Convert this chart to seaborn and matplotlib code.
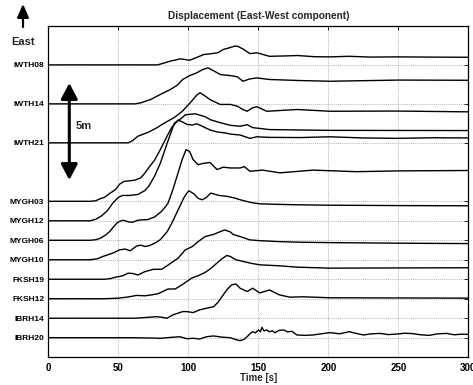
import numpy as np
import pandas as pd
import matplotlib
matplotlib.use("Agg")
import matplotlib.pyplot as plt
import seaborn as sns

# ---------------- data ----------------
stations = ["IWTH08", "IWTH14", "IWTH21", "MYGH03", "MYGH12", "MYGH06",
            "MYGH10", "FKSH19", "FKSH12", "IBRH14", "IBRH20"]
offsets = [15, 13, 11, 8, 7, 6, 5, 4, 3, 2, 1]   # trace baselines (m)

t_IWTH08 = [0, 78, 82, 87, 91, 94, 97, 101, 106, 111, 116, 121, 125, 129, 133, 135, 139, 144, 149, 158, 170, 178, 190, 201, 215, 230, 250, 270, 300]
d_IWTH08 = [0, 0, 0.08, 0.19, 0.25, 0.31, 0.28, 0.24, 0.38, 0.53, 0.57, 0.62, 0.79, 0.87, 0.96, 0.96, 0.82, 0.58, 0.62, 0.44, 0.46, 0.48, 0.42, 0.41, 0.44, 0.40, 0.41, 0.40, 0.39]

t_IWTH14 = [0, 62, 66, 73, 80, 87, 92, 96, 101, 106, 110, 114, 118, 123, 130, 135, 139, 144, 149, 158, 178, 201, 250, 300]
d_IWTH14 = [0, 0, 0.05, 0.22, 0.48, 0.73, 0.95, 1.25, 1.45, 1.59, 1.75, 1.85, 1.7, 1.5, 1.45, 1.39, 1.16, 1.28, 1.33, 1.25, 1.2, 1.16, 1.22, 1.21]

t_IWTH21 = [0, 57, 60, 64, 71, 77, 83.5, 90, 95.6, 100, 103.4, 106, 108.4, 112, 115.5, 122.7, 130, 135, 139, 142, 146, 149, 156, 178, 201, 250, 300]
d_IWTH21 = [0, 0, 0.1, 0.34, 0.53, 0.75, 1.04, 1.3, 1.61, 1.95, 2.22, 2.45, 2.57, 2.4, 2.22, 1.97, 1.97, 1.88, 1.71, 1.62, 1.8, 1.85, 1.62, 1.71, 1.62, 1.63, 1.59]

t_MYGH03 = [0, 30, 34, 37, 40, 44, 48, 51, 54, 58, 62, 66, 69, 72, 76, 80, 83.5, 86, 88.4, 92.7, 95.6, 99, 102.7, 106, 110, 115.5, 120.5, 127, 130, 137, 144, 149, 158, 180, 201, 225, 249, 275, 300]
d_MYGH03 = [0, 0, 0.03, 0.13, 0.2, 0.41, 0.6, 0.88, 1.02, 1.05, 1.09, 1.2, 1.45, 1.75, 2.12, 2.65, 3.15, 3.5, 3.81, 4.17, 4.08, 3.95, 3.91, 3.98, 3.85, 3.66, 3.56, 3.5, 3.45, 3.40, 3.23, 3.31, 3.28, 3.27, 3.31, 3.25, 3.23, 3.26, 3.25]

t_MYGH12 = [0, 30, 34, 38, 42, 46, 50, 53, 58, 64, 69, 72, 76, 80, 85, 90, 94, 98, 105, 112, 116, 123, 130, 137, 142, 146, 158, 200, 300]
d_MYGH12 = [0, 0, 0.08, 0.25, 0.5, 0.9, 1.2, 1.3, 1.3, 1.35, 1.55, 1.8, 2.3, 2.95, 4.0, 5.0, 5.2, 5.44, 5.49, 5.34, 5.18, 5.03, 4.9, 4.85, 4.93, 4.78, 4.68, 4.64, 4.63]

t_MYGH06 = [0, 30, 34, 37, 41, 44, 49, 51, 53.6, 57, 60, 64, 68, 71, 76, 81, 84, 85.6, 89, 92, 95.6, 98.4, 101, 103.4, 107, 111, 115.5, 120.5, 125, 130, 137, 140, 144, 153, 165.5, 189, 220, 250, 300]
d_MYGH06 = [0, 0, 0.03, 0.1, 0.27, 0.46, 0.89, 0.97, 1.03, 0.95, 0.92, 1.03, 1.05, 1.06, 1.2, 1.49, 1.75, 1.92, 2.6, 3.3, 4.14, 4.65, 4.55, 4.14, 3.88, 3.95, 3.99, 3.63, 3.75, 3.71, 3.71, 3.78, 3.54, 3.6, 3.46, 3.6, 3.52, 3.56, 3.58]

t_MYGH10 = [0, 30, 35, 39, 46, 51, 55, 58.5, 63, 66, 69, 72, 76, 80, 85, 88, 91, 94, 97, 99, 100.5, 104, 107, 110, 113, 116, 122, 128, 133, 137, 144, 148, 151, 160, 178, 200, 250, 300]
d_MYGH10 = [0, 0, 0.05, 0.17, 0.34, 0.51, 0.55, 0.46, 0.7, 0.75, 0.68, 0.72, 0.85, 1.03, 1.45, 1.85, 2.3, 2.75, 3.2, 3.42, 3.54, 3.38, 3.15, 3.08, 3.2, 3.42, 3.3, 3.25, 3.17, 3.08, 2.95, 2.9, 2.87, 2.85, 2.82, 2.8, 2.78, 2.77]

t_FKSH19 = [0, 40, 44, 47.8, 52.8, 57, 60, 64, 69, 75, 81, 85.6, 89, 92.7, 97.7, 102.7, 107, 112, 118, 122, 126, 130, 132, 137, 144, 151, 165, 180, 201, 250, 300]
d_FKSH19 = [0, 0, 0.03, 0.1, 0.17, 0.31, 0.3, 0.22, 0.39, 0.51, 0.51, 0.73, 0.9, 1.08, 1.5, 1.67, 1.93, 2.19, 2.3, 2.42, 2.53, 2.43, 2.3, 2.19, 2.02, 1.98, 1.93, 1.9, 1.88, 1.85, 1.83]

t_FKSH12 = [0, 40, 50, 57, 63, 69, 74, 78.5, 82, 85.6, 90.6, 95.6, 102.7, 107, 112, 116, 120, 124, 127.5, 130, 134, 137, 144, 151, 165, 178, 201, 250, 300]
d_FKSH12 = [0, 0, 0.03, 0.09, 0.17, 0.15, 0.2, 0.26, 0.38, 0.5, 0.5, 0.72, 1.07, 1.18, 1.35, 1.55, 1.8, 2.05, 2.22, 2.17, 2.0, 1.95, 1.83, 1.74, 1.69, 1.62, 1.57, 1.58, 1.59]

t_IBRH14 = [0, 62, 66, 72, 77.6, 81, 84.8, 89, 96, 99, 103.5, 108, 113, 118, 121, 125, 128, 131, 134, 137, 142, 146, 151, 158, 165, 172.6, 182, 201, 250, 300]
d_IBRH14 = [0, 0, 0.02, 0.05, 0.08, 0.05, 0.0, 0.17, 0.34, 0.34, 0.29, 0.43, 0.51, 0.59, 0.8, 1.2, 1.5, 1.71, 1.76, 1.54, 1.37, 1.54, 1.3, 1.45, 1.2, 1.08, 1.1, 1.05, 1.04, 1.03]

t_IBRH20 = [0, 60, 75, 80, 88, 94, 99, 104, 108, 113, 118, 124, 130, 134, 137, 140, 142, 144, 146, 148, 150, 151.5, 152.6, 154, 156, 158, 160, 162, 163, 165, 168, 171, 174, 177.6, 183, 189, 195, 201, 208, 215, 220, 225, 231, 237, 243, 249, 255, 260, 266, 272, 278, 284.6, 290, 295, 300]
d_IBRH20 = [0, 0, -0.02, -0.03, 0.02, 0.05, -0.05, -0.03, -0.07, 0.05, 0.09, 0.03, 0, -0.1, -0.15, -0.08, 0.05, 0.2, 0.31, 0.25, 0.4, 0.3, 0.53, 0.35, 0.4, 0.3, 0.36, 0.25, 0.31, 0.38, 0.4, 0.3, 0.33, 0.14, 0.12, 0.14, 0.2, 0.26, 0.2, 0.31, 0.22, 0.14, 0.2, 0.22, 0.16, 0.19, 0.23, 0.21, 0.15, 0.12, 0.2, 0.22, 0.15, 0.18, 0.17]

times = [t_IWTH08, t_IWTH14, t_IWTH21, t_MYGH03, t_MYGH12, t_MYGH06,
         t_MYGH10, t_FKSH19, t_FKSH12, t_IBRH14, t_IBRH20]
disps = [d_IWTH08, d_IWTH14, d_IWTH21, d_MYGH03, d_MYGH12, d_MYGH06,
         d_MYGH10, d_FKSH19, d_FKSH12, d_IBRH14, d_IBRH20]

x_ticks = [0, 50, 100, 150, 200, 250, 300]

frames = []
for name, off, t, d in zip(stations, offsets, times, disps):
    frames.append(pd.DataFrame({"time": t, "y": np.asarray(d) + off, "station": name}))
df = pd.concat(frames, ignore_index=True)

# ---------------- plot ----------------
sns.set_style("white")
plt.rcParams["font.family"] = ["Liberation Sans", "DejaVu Sans"]
plt.rcParams["font.weight"] = "bold"

fig = plt.figure(figsize=(4.73, 3.85), dpi=100)
ax = fig.add_axes([48.3 / 473, 27.8 / 385, 420 / 473, 331.3 / 385])

sns.lineplot(data=df, x="time", y="y", units="station", estimator=None,
             sort=False, color="black", lw=1.0, ax=ax, legend=False)

ax.set_xlim(0, 300)
ax.set_ylim(0, 17)
ax.set_xticks(x_ticks)
ax.set_xticklabels([str(v) for v in x_ticks], fontsize=7, fontweight="bold")
ax.set_yticks(offsets)
ax.set_yticklabels(stations, fontsize=6, fontweight="bold")
ax.tick_params(axis="both", direction="in", length=3, width=0.6,
               top=True, right=True, colors="black")
ax.tick_params(axis="y", pad=3)
ax.tick_params(axis="x", pad=4)
ax.grid(True, linestyle=(0, (1, 1.5)), color="#9a9a9a", linewidth=0.6)
for s in ax.spines.values():
    s.set_color("black")
    s.set_linewidth(0.9)

ax.set_xlabel("Time [s]", fontsize=7, fontweight="bold", labelpad=0.5)
ax.set_ylabel("")
ax.set_title("Displacement (East-West component)", fontsize=7.3,
             fontweight="bold", pad=5)

# 5 m scale arrow
ax.annotate("", xy=(15, 14.07), xytext=(15, 9.09),
            arrowprops=dict(arrowstyle="<|-|>,head_length=0.95,head_width=0.5",
                            lw=2.2, color="black", mutation_scale=10,
                            shrinkA=0, shrinkB=0))
ax.text(19.5, 11.85, "5m", fontsize=8, fontweight="bold", va="center", ha="left")

# East arrow (outside the axes)
ax.annotate("", xy=(23 / 473, 381 / 385), xytext=(23 / 473, 358 / 385),
            xycoords="figure fraction", textcoords="figure fraction",
            arrowprops=dict(arrowstyle="-|>,head_length=0.8,head_width=0.35",
                            lw=1.6, color="black", mutation_scale=10,
                            shrinkA=0, shrinkB=0),
            annotation_clip=False)
fig.text(23 / 473, (385 - 42) / 385, "East", fontsize=8, fontweight="bold",
         ha="center", va="center")

fig.savefig("out.png", dpi=100)
